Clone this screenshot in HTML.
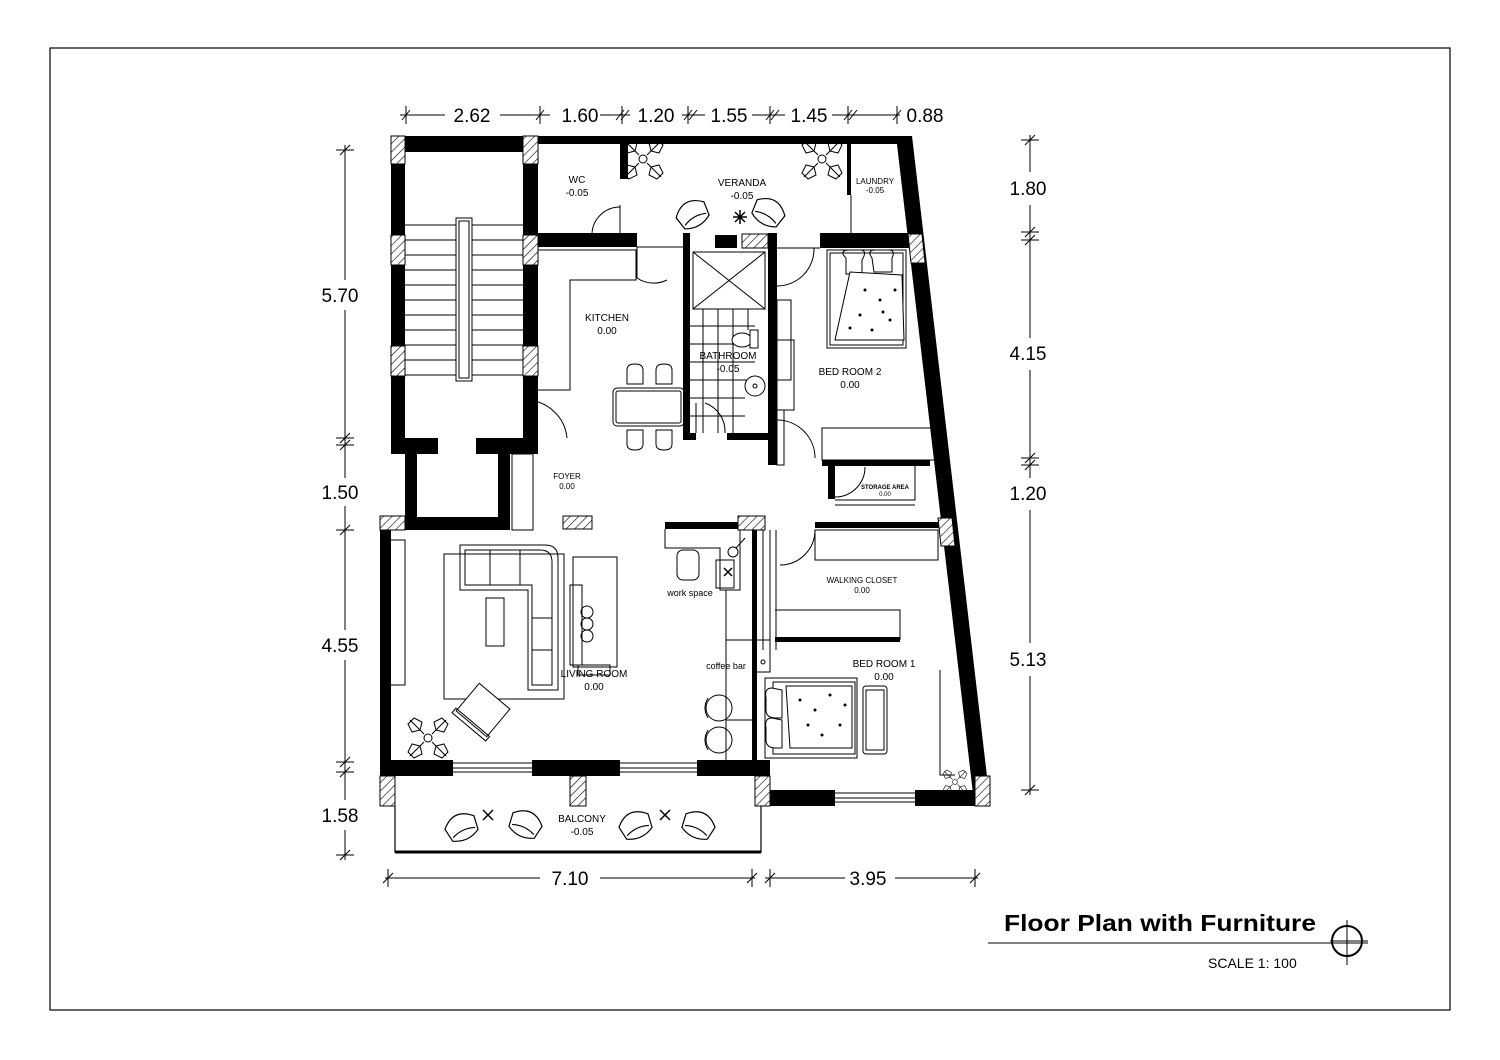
<!DOCTYPE html>
<html><head><meta charset="utf-8"><style>
html,body{margin:0;padding:0;background:#fff}
svg{display:block}
text{font-family:"Liberation Sans",sans-serif;fill:#000}
</style></head><body>
<svg width="1500" height="1060" viewBox="0 0 1500 1060" xmlns="http://www.w3.org/2000/svg">
<defs>
<pattern id="h" width="6" height="6" patternUnits="userSpaceOnUse" patternTransform="rotate(45)">
<rect width="6" height="6" fill="#fff"/><line x1="0" y1="0" x2="0" y2="6" stroke="#000" stroke-width="1.2"/>
</pattern>
<g id="plant" stroke="#000" fill="none" stroke-width="1">
<circle r="4"/><path d="M-4,-4 L-18,-18 M4,-4 L18,-18 M-4,4 L-18,18 M4,4 L18,18"/>
<path d="M-8,-8 l-8,2 -4,-8 6,-6 8,4z M8,-8 l8,2 4,-8 -6,-6 -8,4z M-8,8 l-8,-2 -4,8 6,6 8,-4z M8,8 l8,-2 4,8 -6,6 -8,-4z"/>
</g>
<g id="chair" stroke="#000" fill="#fff" stroke-width="1.2">
<path d="M-14,8 L-16,-6 Q0,-22 16,-6 L14,8 Q0,16 -14,8z"/><path d="M-12,5 Q0,0 12,5" fill="none"/>
</g>
</defs>

<rect x="50" y="48" width="1400" height="962" fill="none" stroke="#000" stroke-width="1.2"/>

<g stroke="#000" stroke-width="1" fill="none">
<line x1="400" y1="115" x2="445" y2="115"/><line x1="500" y1="115" x2="550" y2="115"/>
<line x1="600" y1="115" x2="630" y2="115"/><line x1="682" y1="115" x2="705" y2="115"/>
<line x1="752" y1="115" x2="785" y2="115"/><line x1="832" y1="115" x2="900" y2="115"/>
<path d="M402,120 l8,-10 M536,120 l8,-10 M616,120 l8,-10 M621,120 l8,-10 M684,120 l8,-10 M689,120 l8,-10 M766,120 l8,-10 M771,120 l8,-10 M844,120 l8,-10 M849,120 l8,-10 M893,120 l8,-10"/>
<line x1="406" y1="106" x2="406" y2="124"/><line x1="540" y1="106" x2="540" y2="124"/>
<line x1="622" y1="106" x2="622" y2="124"/><line x1="688" y1="106" x2="688" y2="124"/>
<line x1="770" y1="106" x2="770" y2="124"/><line x1="848" y1="106" x2="848" y2="124"/>
<line x1="897" y1="106" x2="897" y2="124"/>
<line x1="345" y1="145" x2="345" y2="280"/><line x1="345" y1="310" x2="345" y2="478"/>
<line x1="345" y1="506" x2="345" y2="630"/><line x1="345" y1="660" x2="345" y2="800"/>
<line x1="345" y1="830" x2="345" y2="860"/>
<path d="M336,150 h18 M336,438 h18 M336,445 h18 M336,530 h18 M336,762 h18 M336,772 h18 M336,855 h18"/>
<path d="M340,155 l10,-10 M340,443 l10,-10 M340,450 l10,-10 M340,535 l10,-10 M340,767 l10,-10 M340,777 l10,-10 M340,860 l10,-10"/>
<line x1="1030" y1="135" x2="1030" y2="172"/><line x1="1030" y1="205" x2="1030" y2="338"/>
<line x1="1030" y1="370" x2="1030" y2="478"/><line x1="1030" y1="510" x2="1030" y2="643"/>
<line x1="1030" y1="676" x2="1030" y2="795"/>
<path d="M1021,140 h18 M1021,232 h18 M1021,240 h18 M1021,458 h18 M1021,465 h18 M1021,790 h18"/>
<path d="M1025,145 l10,-10 M1025,237 l10,-10 M1025,245 l10,-10 M1025,463 l10,-10 M1025,470 l10,-10 M1025,795 l10,-10"/>
<line x1="385" y1="878" x2="540" y2="878"/><line x1="600" y1="878" x2="755" y2="878"/>
<line x1="765" y1="878" x2="845" y2="878"/><line x1="895" y1="878" x2="978" y2="878"/>
<path d="M388,869 v18 M752,869 v18 M770,869 v18 M975,869 v18"/>
<path d="M383,883 l10,-10 M747,883 l10,-10 M765,883 l10,-10 M970,883 l10,-10"/>
</g>
<g font-size="19" text-anchor="middle">
<text x="472" y="122">2.62</text><text x="580" y="122">1.60</text><text x="656" y="122">1.20</text>
<text x="729" y="122">1.55</text><text x="809" y="122">1.45</text><text x="925" y="122">0.88</text>
<text x="340" y="302">5.70</text><text x="340" y="499">1.50</text><text x="340" y="652">4.55</text><text x="340" y="822">1.58</text>
<text x="1028" y="195">1.80</text><text x="1028" y="360">4.15</text><text x="1028" y="500">1.20</text><text x="1028" y="666">5.13</text>
<text x="570" y="885">7.10</text><text x="868" y="885">3.95</text>
</g>

<g fill="#000">
<rect x="391" y="136" width="147" height="16"/>
<rect x="391" y="136" width="14" height="318"/>
<rect x="523" y="136" width="15" height="302"/>
<rect x="391" y="438" width="47" height="16"/><rect x="476" y="438" width="62" height="16"/>
<rect x="405" y="454" width="12" height="76"/><rect x="405" y="517" width="105" height="13"/><rect x="498" y="454" width="12" height="76"/>
<rect x="538" y="136" width="372" height="8"/>
<rect x="620" y="143" width="8" height="36"/>
<rect x="538" y="233" width="99" height="14"/>
<rect x="683" y="233" width="7" height="207"/>
<rect x="715" y="235" width="22" height="13"/>
<rect x="768" y="233" width="9" height="232"/>
<rect x="690" y="433" width="6" height="7"/><rect x="727" y="433" width="41" height="7"/>
<rect x="820" y="233" width="90" height="15"/>
<rect x="847" y="143" width="4" height="52"/>
<rect x="822" y="460" width="108" height="6"/>
<rect x="828" y="466" width="7" height="33"/>
<rect x="815" y="522" width="125" height="6"/>
<polygon points="896,136 912,136 990,802 974,802"/>
<rect x="380" y="530" width="11" height="245"/>
<rect x="380" y="760" width="73" height="16"/><rect x="532" y="760" width="88" height="16"/><rect x="697" y="760" width="73" height="16"/>
<rect x="665" y="522" width="75" height="7"/>
<rect x="752" y="530" width="5" height="232"/>
<rect x="770" y="790" width="65" height="16"/><rect x="915" y="790" width="62" height="16"/>
<rect x="775" y="637" width="125" height="5"/>
</g>
<g fill="url(#h)" stroke="#000" stroke-width="1">
<rect x="391" y="136" width="14" height="28"/><rect x="523" y="136" width="15" height="28"/>
<rect x="391" y="235" width="14" height="30"/><rect x="523" y="235" width="15" height="30"/>
<rect x="391" y="346" width="14" height="30"/><rect x="523" y="346" width="15" height="30"/>
<rect x="380" y="516" width="25" height="14"/><rect x="563" y="516" width="29" height="13"/>
<rect x="738" y="516" width="27" height="14"/>
<rect x="742" y="234" width="26" height="14"/>
<polygon points="908,234 922,234 925,263 911,263"/>
<polygon points="938,518 952,518 955,546 941,546"/>
<rect x="380" y="776" width="15" height="30"/><rect x="570" y="776" width="16" height="30"/><rect x="755" y="776" width="15" height="30"/>
<rect x="975" y="776" width="15" height="30"/>
</g>

<g stroke="#000" stroke-width="1" fill="none">
<path d="M405,225 H523 M405,240 H523 M405,255 H523 M405,270 H523 M405,285 H523 M405,300 H523 M405,315 H523 M405,330 H523 M405,345 H523 M405,360 H523 M405,375 H523"/>
<rect x="456" y="218" width="16" height="163" fill="#fff"/><rect x="459" y="221" width="10" height="157"/>
<path d="M620,207 A28,28 0 0 0 592,233 M620,205 V233"/>
<path d="M637,247 V278 A30,30 0 0 0 667,280 M637,247 h46"/>
<path d="M525,400 A42,42 0 0 1 567,438 M525,400 V438"/>
<path d="M777,286 A37,37 0 0 0 814,248 M777,248 h43"/>
<path d="M777,420 A38,38 0 0 1 815,458"/>
<path d="M705,403 A30,30 0 0 1 725,433 M696,403 v30"/>
<path d="M835,497 A30,30 0 0 0 865,467"/>
<path d="M780,565 A35,35 0 0 0 815,530 M776,530 v120"/>
<path d="M538,250 H636 V280 H570 V390 H538"/>
<rect x="613" y="388" width="71" height="38" rx="4"/><rect x="616" y="391" width="65" height="32" rx="2"/>
<path d="M627,384 v-14 q0,-6 8,-6 q8,0 8,6 v14z M656,384 v-14 q0,-6 8,-6 q8,0 8,6 v14z M627,430 v14 q0,6 8,6 q8,0 8,-6 v-14z M656,430 v14 q0,6 8,6 q8,0 8,-6 v-14z"/>
<rect x="693" y="252" width="72" height="57"/><path d="M693,252 L765,309 M765,252 L693,309"/>
<path d="M690,326 H755 M690,344 H755 M690,362 H755 M690,380 H755 M690,398 H745 M690,416 H745 M703,309 V433 M718,309 V433 M733,309 V433 M748,309 V330"/>
<ellipse cx="742" cy="340" rx="10" ry="7" fill="#fff"/><rect x="750" y="330" width="8" height="18" fill="#fff"/>
<circle cx="755" cy="386" r="10" fill="#fff"/><circle cx="755" cy="386" r="2"/>
<rect x="777" y="300" width="14" height="80"/><rect x="777" y="340" width="17" height="70"/>
<rect x="777" y="410" width="7" height="55"/>
<path d="M851,195 V233"/>
<rect x="827" y="250" width="79" height="98" fill="#fff"/><rect x="830" y="253" width="73" height="92"/>
<path d="M846,258 q-8,-8 4,-8 h10 q8,0 2,10 v14 h-16z M872,258 q-6,-8 4,-8 h12 q8,0 4,8 v14 h-18z"/>
<path d="M850,272 L835,340 H904 L902,275 Z" fill="#fff"/>
<g fill="#000" stroke="none"><circle cx="865" cy="290" r="1.5"/><circle cx="880" cy="300" r="1.5"/><circle cx="860" cy="315" r="1.5"/><circle cx="890" cy="320" r="1.5"/><circle cx="872" cy="330" r="1.5"/><circle cx="895" cy="290" r="1.5"/><circle cx="850" cy="328" r="1.5"/><circle cx="883" cy="312" r="1.5"/></g>
<rect x="822" y="428" width="113" height="32"/>
<path d="M835,500 H915 V465 M835,505 H915"/>
<rect x="512" y="454" width="21" height="76"/>
<path d="M391,540 H405 V685 H391"/>
<rect x="444" y="554" width="120" height="145"/>
<path d="M460,545 H545 Q558,545 558,558 V690 H528 V590 H460 Z"/>
<path d="M465,550 H540 Q552,550 552,562 V685 H532 V585 H465 Z"/>
<path d="M490,550 V585 M520,550 V585 M532,618 H552 M532,650 H552"/>
<rect x="486" y="598" width="18" height="48"/>
<rect x="573" y="557" width="44" height="110"/>
<rect x="570" y="585" width="12" height="80"/><rect x="578" y="665" width="32" height="10"/>
<circle cx="587" cy="612" r="6"/><circle cx="587" cy="624" r="6"/><circle cx="587" cy="636" r="6"/>
<g transform="translate(483,710) rotate(40)"><rect x="-20" y="-18" width="40" height="36" fill="#fff"/><rect x="-22" y="16" width="44" height="6"/></g>
<path d="M665,529 V548 H720 V590 H740 V530"/>
<rect x="677" y="550" width="22" height="30" rx="6"/>
<rect x="716" y="560" width="18" height="28"/>
<circle cx="733" cy="552" r="5"/><path d="M736,548 L745,538"/>
<path d="M726,590 V760 M726,640 H752 M726,720 H752"/>
<rect x="756" y="640" width="14" height="32"/><circle cx="763" cy="662" r="2"/>
<circle cx="719" cy="708" r="13"/><circle cx="719" cy="740" r="13"/>
<path d="M708,698 q-6,10 0,20 M708,730 q-6,10 0,20"/>
<path d="M763,530 V650 M770,530 V650"/>
<path d="M453,763 H532 M453,768 H532 M453,772 H532 M620,763 H697 M620,768 H697 M620,772 H697"/>
<path d="M835,793 H915 M835,798 H915 M835,802 H915"/>
<path d="M395,806 V852 H761 V806" stroke-width="1.2"/>
<path d="M395,852 H761" stroke-width="3"/>
<rect x="815" y="530" width="123" height="30"/>
<path d="M775,610 H900 V640"/>
<rect x="765" y="678" width="92" height="80"/><rect x="773" y="682" width="82" height="72"/>
<path d="M772,688 q-8,0 -6,10 v12 q0,8 10,8 h6 v-28z M772,718 q-8,0 -6,10 v12 q0,8 10,8 h6 v-28z" fill="#fff"/>
<path d="M786,686 H852 V748 H790 Z"/>
<g fill="#000" stroke="none"><circle cx="800" cy="700" r="1.5"/><circle cx="815" cy="710" r="1.5"/><circle cx="830" cy="695" r="1.5"/><circle cx="840" cy="725" r="1.5"/><circle cx="822" cy="735" r="1.5"/><circle cx="808" cy="725" r="1.5"/><circle cx="845" cy="705" r="1.5"/></g>
<rect x="863" y="686" width="24" height="68" rx="3"/><rect x="866" y="690" width="18" height="60"/>
<path d="M940,670 V775 H955"/>
</g>

<use href="#plant" x="643" y="159"/><use href="#plant" x="822" y="159"/><use href="#plant" x="428" y="738"/>
<g transform="translate(955,782) scale(0.6)"><use href="#plant"/></g>
<g transform="translate(693,215) rotate(-30)"><use href="#chair"/></g><g transform="translate(768,213) rotate(30)"><use href="#chair"/></g>
<g transform="translate(462,828) rotate(-25)"><use href="#chair"/></g><g transform="translate(525,825) rotate(25)"><use href="#chair"/></g>
<g transform="translate(636,826) rotate(-25)"><use href="#chair"/></g><g transform="translate(698,826) rotate(25)"><use href="#chair"/></g>
<g stroke="#000" stroke-width="1.5"><path d="M735,212 l10,10 M745,212 l-10,10 M740,210 v14 M733,217 h14"/><path d="M483,810 l10,10 M493,810 l-10,10"/><path d="M660,810 l10,10 M670,810 l-10,10"/><path d="M724,568 l8,8 M732,568 l-8,8"/></g>

<g font-size="10" text-anchor="middle">
<text x="577" y="183">WC</text><text x="577" y="196">-0.05</text>
<text x="742" y="186">VERANDA</text><text x="742" y="199">-0.05</text>
<text x="875" y="184" font-size="8">LAUNDRY</text><text x="875" y="193" font-size="8">-0.05</text>
<text x="607" y="321">KITCHEN</text><text x="607" y="334">0.00</text>
<text x="728" y="359">BATHROOM</text><text x="728" y="372">-0.05</text>
<text x="850" y="375">BED ROOM 2</text><text x="850" y="388">0.00</text>
<text x="567" y="479" font-size="8">FOYER</text><text x="567" y="489" font-size="8">0.00</text>
<text x="885" y="489" font-size="6" font-weight="bold">STORAGE AREA</text><text x="885" y="496" font-size="6">0.00</text>
<text x="862" y="583" font-size="8">WALKING CLOSET</text><text x="862" y="593" font-size="8">0.00</text>
<text x="690" y="596" font-size="9">work space</text>
<text x="726" y="669" font-size="9">coffee bar</text>
<text x="594" y="677">LIVING ROOM</text><text x="594" y="690">0.00</text>
<text x="884" y="667">BED ROOM 1</text><text x="884" y="680">0.00</text>
<text x="582" y="822">BALCONY</text><text x="582" y="835">-0.05</text>
</g>

<text x="1004" y="931" font-size="23" font-weight="bold" textLength="312" lengthAdjust="spacingAndGlyphs">Floor Plan with Furniture</text>
<line x1="988" y1="943" x2="1368" y2="943" stroke="#000" stroke-width="1"/>
<text x="1208" y="968" font-size="14">SCALE 1: 100</text>
<circle cx="1347" cy="941" r="15" fill="none" stroke="#000" stroke-width="2"/>
<path d="M1347,920 V965 M1330,941 H1368" stroke="#000" stroke-width="1"/>
</svg>
</body></html>
